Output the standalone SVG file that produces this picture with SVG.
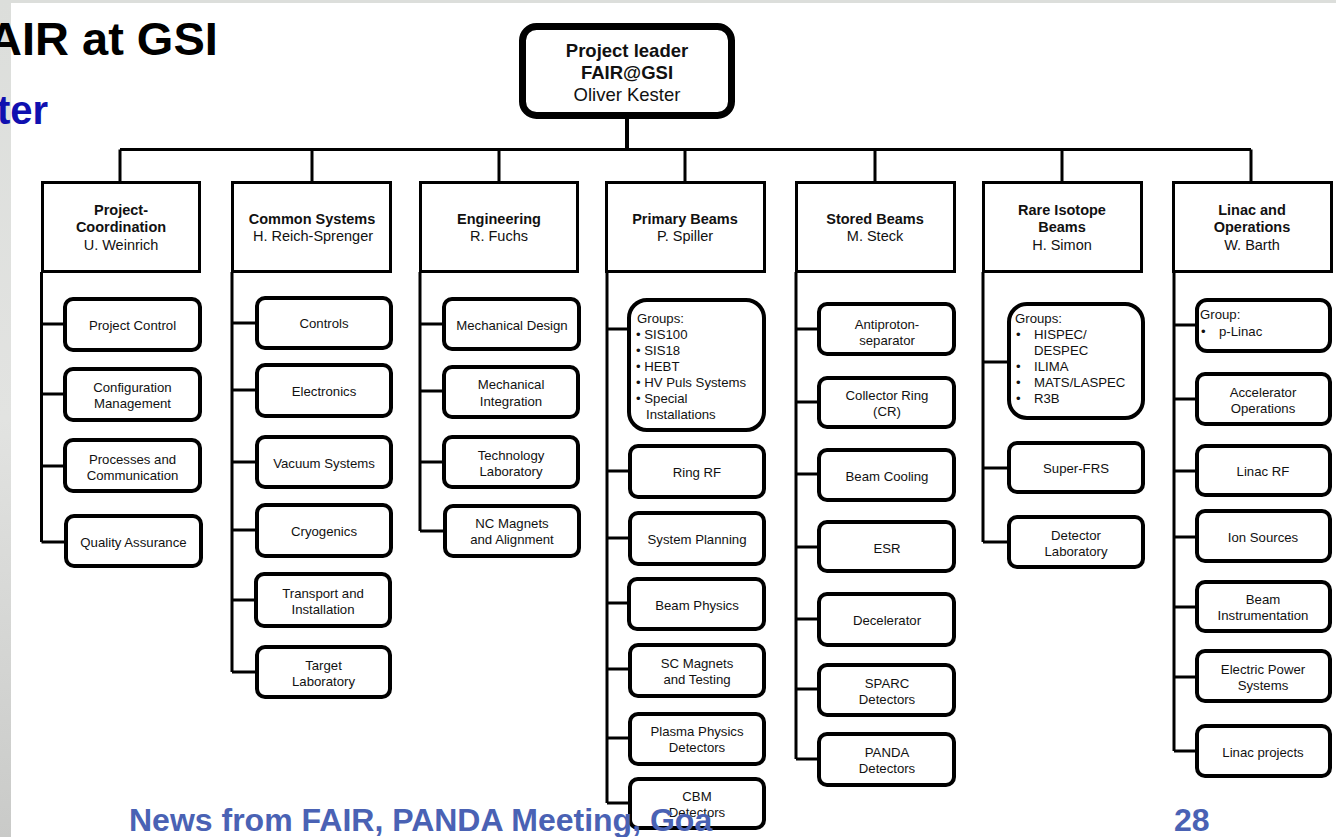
<svg xmlns="http://www.w3.org/2000/svg" width="1336" height="837" viewBox="0 0 1336 837">
<defs>
<linearGradient id="bgl" x1="0" y1="0" x2="0" y2="1">
<stop offset="0" stop-color="#dcdedb"/>
<stop offset="0.5" stop-color="#e2e3e1"/>
<stop offset="1" stop-color="#c9cac8"/>
</linearGradient>
<style>
.hdr{fill:#fff;stroke:#000;stroke-width:3}
.box{fill:#fff;stroke:#000;stroke-width:4}
.root{fill:#fff;stroke:#000;stroke-width:7}
.ln{fill:none;stroke:#000;stroke-width:3}
text{font-family:"Liberation Sans",Arial,sans-serif;fill:#111}
.t{font-size:13.2px;text-anchor:middle}
.tl{font-size:13.2px}
.hb{font-size:14.5px;font-weight:bold;text-anchor:middle}
.hn{font-size:14.5px;text-anchor:middle}
.rb{font-size:18.5px;font-weight:bold;text-anchor:middle}
.rn{font-size:18.5px;text-anchor:middle}
.foot{font-size:32px;font-weight:bold;fill:#4a62b4}
</style>
</defs>
<rect x="0" y="0" width="1336" height="837" fill="#fff"/>
<rect x="0" y="0" width="11" height="837" fill="url(#bgl)"/>
<rect x="0" y="0" width="1336" height="3" fill="#dcdedb"/>
<text x="-12" y="55" style="font-size:47px;font-weight:bold;fill:#000">AIR at GSI</text>
<text x="-3" y="124" style="font-size:40px;font-weight:bold;fill:#1010b0">ter</text>

<g id="connectors">
<path class="ln" d="M627 119V149.5" style="stroke-width:4"/>
<path class="ln" d="M120 149.5H1251M120 149.5V182M312 149.5V182M499 149.5V182M685 149.5V182M875 149.5V182M1062 149.5V182M1251 149.5V182"/>
<path class="ln" d="M41.5 272V542M41.5 324H65M41.5 394H65M41.5 466H65M41.5 542H66"/>
<path class="ln" d="M232 272V672M232 323H257M232 390H257M232 462H257M232 530H257M232 600H256M232 672H257"/>
<path class="ln" d="M420 272V531M420 324H444M420 391H444M420 462H444M420 531H445"/>
<path class="ln" d="M607 272V803M607 329H629M607 471H630M607 538H630M607 603H629M607 669H630M607 738H630M607 803H630"/>
<path class="ln" d="M796 272V759M796 329H819M796 402H819M796 474H819M796 547H819M796 619H819M796 689H819M796 759H819"/>
<path class="ln" d="M983 272V542M983 362H1009M983 468H1009M983 542H1009"/>
<path class="ln" d="M1174 272V751M1174 325H1197M1174 399H1197M1174 471H1197M1174 537H1197M1174 607H1197M1174 677H1197M1174 751H1197"/>
</g>

<g id="root">
<rect class="root" x="522.5" y="26.5" width="209" height="89" rx="14"/>
<text class="rb" x="627" y="56.5">Project leader</text>
<text class="rb" x="627" y="78.5">FAIR@GSI</text>
<text class="rn" x="627" y="100.5">Oliver Kester</text>
</g>

<g id="h-coordination">
<rect class="hdr" x="42.5" y="182.5" width="157" height="89"/>
<text class="hb" x="121" y="215">Project-</text>
<text class="hb" x="121" y="232">Coordination</text>
<text class="hn" x="121" y="250">U. Weinrich</text>
</g>
<g id="h-common">
<rect class="hdr" x="232.5" y="182.5" width="158" height="89"/>
<text class="hb" x="312" y="224">Common Systems</text>
<text class="hn" x="313" y="241">H. Reich-Sprenger</text>
</g>
<g id="h-engineering">
<rect class="hdr" x="420.5" y="182.5" width="157" height="89"/>
<text class="hb" x="499" y="224">Engineering</text>
<text class="hn" x="499" y="241">R. Fuchs</text>
</g>
<g id="h-primary">
<rect class="hdr" x="606.5" y="182.5" width="158" height="89"/>
<text class="hb" x="685" y="224">Primary Beams</text>
<text class="hn" x="685" y="241">P. Spiller</text>
</g>
<g id="h-stored">
<rect class="hdr" x="796.5" y="182.5" width="158" height="89"/>
<text class="hb" x="875" y="224">Stored Beams</text>
<text class="hn" x="875" y="241">M. Steck</text>
</g>
<g id="h-rare">
<rect class="hdr" x="983.5" y="182.5" width="158" height="89"/>
<text class="hb" x="1062" y="215">Rare Isotope</text>
<text class="hb" x="1062" y="232">Beams</text>
<text class="hn" x="1062" y="250">H. Simon</text>
</g>
<g id="h-linac">
<rect class="hdr" x="1173.5" y="182.5" width="158" height="89"/>
<text class="hb" x="1252" y="215">Linac and</text>
<text class="hb" x="1252" y="232">Operations</text>
<text class="hn" x="1252" y="250">W. Barth</text>
</g>

<g id="c1-project-control"><rect class="box" x="65" y="299" width="135" height="51" rx="8"/><text class="t" x="132.5" y="329.6">Project Control</text></g>
<g id="c1-configuration"><rect class="box" x="65" y="369" width="135" height="51" rx="8"/><text class="t" x="132.5" y="391.6">Configuration</text><text class="t" x="132.5" y="407.6">Management</text></g>
<g id="c1-processes"><rect class="box" x="65" y="440" width="135" height="51" rx="8"/><text class="t" x="132.5" y="463.6">Processes and</text><text class="t" x="132.5" y="479.6">Communication</text></g>
<g id="c1-quality"><rect class="box" x="66" y="516" width="135" height="50" rx="8"/><text class="t" x="133.5" y="546.6">Quality Assurance</text></g>

<g id="c2-controls"><rect class="box" x="257" y="298" width="134" height="50" rx="8"/><text class="t" x="324" y="327.6">Controls</text></g>
<g id="c2-electronics"><rect class="box" x="257" y="365" width="134" height="51" rx="8"/><text class="t" x="324" y="395.6">Electronics</text></g>
<g id="c2-vacuum"><rect class="box" x="257" y="437" width="134" height="50" rx="8"/><text class="t" x="324" y="467.6">Vacuum Systems</text></g>
<g id="c2-cryogenics"><rect class="box" x="257" y="505" width="134" height="51" rx="8"/><text class="t" x="324" y="535.6">Cryogenics</text></g>
<g id="c2-transport"><rect class="box" x="256" y="574" width="134" height="52" rx="8"/><text class="t" x="323" y="597.6">Transport and</text><text class="t" x="323" y="613.6">Installation</text></g>
<g id="c2-target"><rect class="box" x="257" y="647" width="133" height="50" rx="8"/><text class="t" x="323.5" y="669.6">Target</text><text class="t" x="323.5" y="685.6">Laboratory</text></g>

<g id="c3-mechdesign"><rect class="box" x="444" y="299" width="135" height="50" rx="8"/><text class="t" x="512" y="329.6">Mechanical Design</text></g>
<g id="c3-mechint"><rect class="box" x="444" y="367" width="134" height="50" rx="8"/><text class="t" x="511" y="388.6">Mechanical</text><text class="t" x="511" y="405.6">Integration</text></g>
<g id="c3-techlab"><rect class="box" x="444" y="437" width="134" height="50" rx="8"/><text class="t" x="511" y="459.6">Technology</text><text class="t" x="511" y="475.6">Laboratory</text></g>
<g id="c3-ncmagnets"><rect class="box" x="445" y="506" width="134" height="50" rx="8"/><text class="t" x="512" y="527.6">NC Magnets</text><text class="t" x="512" y="543.6">and Alignment</text></g>

<g id="c4-groups"><rect class="box" x="629" y="300" width="135" height="130" rx="18"/>
<text class="tl" x="637" y="322.6">Groups:</text>
<text class="tl" x="636" y="338.6">• SIS100</text>
<text class="tl" x="636" y="354.6">• SIS18</text>
<text class="tl" x="636" y="370.6">• HEBT</text>
<text class="tl" x="636" y="386.6">• HV Puls Systems</text>
<text class="tl" x="636" y="402.6">• Special</text>
<text class="tl" x="646" y="418.6">Installations</text></g>
<g id="c4-ringrf"><rect class="box" x="630" y="446" width="134" height="51" rx="8"/><text class="t" x="697" y="476.6">Ring RF</text></g>
<g id="c4-sysplan"><rect class="box" x="630" y="513" width="134" height="51" rx="8"/><text class="t" x="697" y="543.6">System Planning</text></g>
<g id="c4-beamphys"><rect class="box" x="629" y="579" width="135" height="50" rx="8"/><text class="t" x="697" y="609.6">Beam Physics</text></g>
<g id="c4-scmag"><rect class="box" x="630" y="645" width="134" height="51" rx="8"/><text class="t" x="697" y="667.6">SC Magnets</text><text class="t" x="697" y="683.6">and Testing</text></g>
<g id="c4-plasma"><rect class="box" x="630" y="714" width="134" height="50" rx="8"/><text class="t" x="697" y="735.6">Plasma Physics</text><text class="t" x="697" y="751.6">Detectors</text></g>
<g id="c4-cbm"><rect class="box" x="630" y="779" width="134" height="49" rx="8"/><text class="t" x="697" y="800.6">CBM</text><text class="t" x="697" y="816.6">Detectors</text></g>

<g id="c5-antiproton"><rect class="box" x="819" y="304" width="135" height="50" rx="8"/><text class="t" x="887" y="328.6">Antiproton-</text><text class="t" x="887" y="344.6">separator</text></g>
<g id="c5-collector"><rect class="box" x="819" y="378" width="135" height="49" rx="8"/><text class="t" x="887" y="399.6">Collector Ring</text><text class="t" x="887" y="415.6">(CR)</text></g>
<g id="c5-cooling"><rect class="box" x="819" y="450" width="135" height="50" rx="8"/><text class="t" x="887" y="480.6">Beam Cooling</text></g>
<g id="c5-esr"><rect class="box" x="819" y="522" width="135" height="49" rx="8"/><text class="t" x="887" y="552.6">ESR</text></g>
<g id="c5-decelerator"><rect class="box" x="819" y="594" width="135" height="51" rx="8"/><text class="t" x="887" y="624.6">Decelerator</text></g>
<g id="c5-sparc"><rect class="box" x="819" y="665" width="135" height="50" rx="8"/><text class="t" x="887" y="687.6">SPARC</text><text class="t" x="887" y="703.6">Detectors</text></g>
<g id="c5-panda"><rect class="box" x="819" y="734" width="135" height="51" rx="8"/><text class="t" x="887" y="756.6">PANDA</text><text class="t" x="887" y="772.6">Detectors</text></g>

<g id="c6-groups"><rect class="box" x="1009" y="304" width="134" height="114" rx="18"/>
<text class="tl" x="1015" y="322.6">Groups:</text>
<text class="tl" x="1016" y="338.6">•</text><text class="tl" x="1034" y="338.6">HISPEC/</text>
<text class="tl" x="1034" y="354.6">DESPEC</text>
<text class="tl" x="1016" y="370.6">•</text><text class="tl" x="1034" y="370.6">ILIMA</text>
<text class="tl" x="1016" y="386.6">•</text><text class="tl" x="1034" y="386.6">MATS/LASPEC</text>
<text class="tl" x="1016" y="402.6">•</text><text class="tl" x="1034" y="402.6">R3B</text></g>
<g id="c6-superfrs"><rect class="box" x="1009" y="443" width="134" height="49" rx="8"/><text class="t" x="1076" y="472.6">Super-FRS</text></g>
<g id="c6-detlab"><rect class="box" x="1009" y="517" width="134" height="50" rx="8"/><text class="t" x="1076" y="539.6">Detector</text><text class="t" x="1076" y="555.6">Laboratory</text></g>

<g id="c7-group"><rect class="box" x="1197" y="300" width="133" height="51" rx="10"/>
<text class="tl" x="1200" y="318.6">Group:</text>
<text class="tl" x="1201" y="335.6">•</text><text class="tl" x="1219" y="335.6">p-Linac</text></g>
<g id="c7-accop"><rect class="box" x="1197" y="374" width="133" height="50" rx="8"/><text class="t" x="1263" y="396.6">Accelerator</text><text class="t" x="1263" y="412.6">Operations</text></g>
<g id="c7-linacrf"><rect class="box" x="1197" y="446" width="133" height="49" rx="8"/><text class="t" x="1263" y="475.6">Linac RF</text></g>
<g id="c7-ion"><rect class="box" x="1197" y="511" width="133" height="50" rx="8"/><text class="t" x="1263" y="541.6">Ion Sources</text></g>
<g id="c7-beaminst"><rect class="box" x="1197" y="582" width="133" height="49" rx="8"/><text class="t" x="1263" y="603.6">Beam</text><text class="t" x="1263" y="619.6">Instrumentation</text></g>
<g id="c7-power"><rect class="box" x="1197" y="651" width="133" height="50" rx="8"/><text class="t" x="1263" y="673.6">Electric Power</text><text class="t" x="1263" y="689.6">Systems</text></g>
<g id="c7-projects"><rect class="box" x="1197" y="726" width="133" height="50" rx="8"/><text class="t" x="1263" y="756.6">Linac projects</text></g>

<text class="foot" x="129" y="831">News from FAIR, PANDA Meeting, Goa</text>
<text class="foot" x="1174" y="831">28</text>
</svg>
